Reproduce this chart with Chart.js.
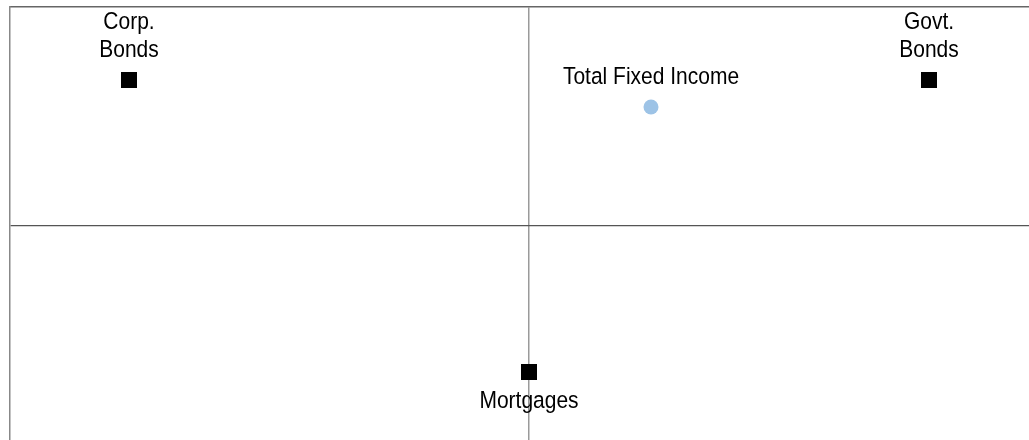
<!DOCTYPE html>
<html>
<head>
<meta charset="utf-8">
<script src="https://cdn.jsdelivr.net/npm/chart.js@4/dist/chart.umd.min.js"></script>
<style>
  html, body { margin: 0; padding: 0; background: #fff; }
  #wrap { width: 1029px; height: 440px; }
</style>
</head>
<body>
<div id="wrap"><canvas id="quadChart"></canvas></div>
<script>
// sectors plotted as black squares
const sectorNames = [['Corp.', 'Bonds'], ['Govt.', 'Bonds'], ['Mortgages']];
const sectorX = [-4.0, 4.0, 0.0];
const sectorY = [1.46, 1.46, -1.46];
const sectorLabelSide = ['above', 'above', 'below'];

// overall portfolio as a blue dot
const totalName = [['Total Fixed Income']];
const totalX = [1.22];
const totalY = [1.19];
const totalLabelSide = ['above'];

// text is drawn a bit taller than wide, like the original
const labelPlugin = {
  id: 'pointLabels',
  afterDatasetsDraw(chart) {
    const ctx = chart.ctx;
    const sy = 1.14;
    ctx.save();
    ctx.font = '21px "Liberation Sans", Arial, sans-serif';
    ctx.fillStyle = '#000';
    ctx.textAlign = 'center';
    ctx.textBaseline = 'alphabetic';
    chart.data.datasets.forEach((ds, di) => {
      const meta = chart.getDatasetMeta(di);
      meta.data.forEach((pt, i) => {
        const lines = ds.names[i];
        const lh = 28.5;
        lines.forEach((t, k) => {
          let y;
          if (ds.sides[i] === 'above') {
            y = pt.y - 23 - (lines.length - 1 - k) * lh;
          } else {
            y = pt.y + 36 + k * lh;
          }
          ctx.save();
          ctx.translate(pt.x, y);
          ctx.scale(1, sy);
          ctx.fillText(t, 0, 0);
          ctx.restore();
        });
      });
    });
    ctx.restore();
  }
};

const quadCTX = document.getElementById('quadChart').getContext('2d');
const quadChart = new Chart(quadCTX, {
  type: 'scatter',
  data: {
    datasets: [
      {
        label: 'Sectors',
        data: sectorX.map((x, i) => ({ x: x, y: sectorY[i] })),
        names: sectorNames,
        sides: sectorLabelSide,
        pointStyle: 'rect',
        pointRadius: 11.3,
        pointHoverRadius: 11.3,
        backgroundColor: '#000',
        borderWidth: 0
      },
      {
        label: 'Total Fixed Income',
        data: totalX.map((x, i) => ({ x: x, y: totalY[i] })),
        names: totalName,
        sides: totalLabelSide,
        pointStyle: 'circle',
        pointRadius: 7.5,
        pointHoverRadius: 7.5,
        backgroundColor: '#9dc3e6',
        borderWidth: 0
      }
    ]
  },
  options: {
    responsive: true,
    maintainAspectRatio: false,
    animation: false,
    layout: { autoPadding: false, padding: { left: 10, top: 7, right: 0, bottom: 0 } },
    plugins: { legend: { display: false }, tooltip: { enabled: false } },
    scales: {
      x: {
        type: 'linear',
        position: 'top',
        min: -5.19,
        max: 5.0,
        afterBuildTicks: (s) => { s.ticks = [{ value: 0 }]; },
        ticks: { display: false },
        grid: { drawTicks: false, color: '#9a9a9a', lineWidth: 1.5 },
        border: { display: true, color: '#666', width: 1.5 }
      },
      y: {
        type: 'linear',
        position: 'left',
        min: -2.14,
        max: 2.19,
        afterBuildTicks: (s) => { s.ticks = [{ value: 0 }]; },
        ticks: { display: false },
        grid: { drawTicks: false, color: '#555', lineWidth: 1.2 },
        border: { display: true, color: '#888', width: 1.5 }
      }
    }
  },
  plugins: [labelPlugin]
});
</script>
</body>
</html>
